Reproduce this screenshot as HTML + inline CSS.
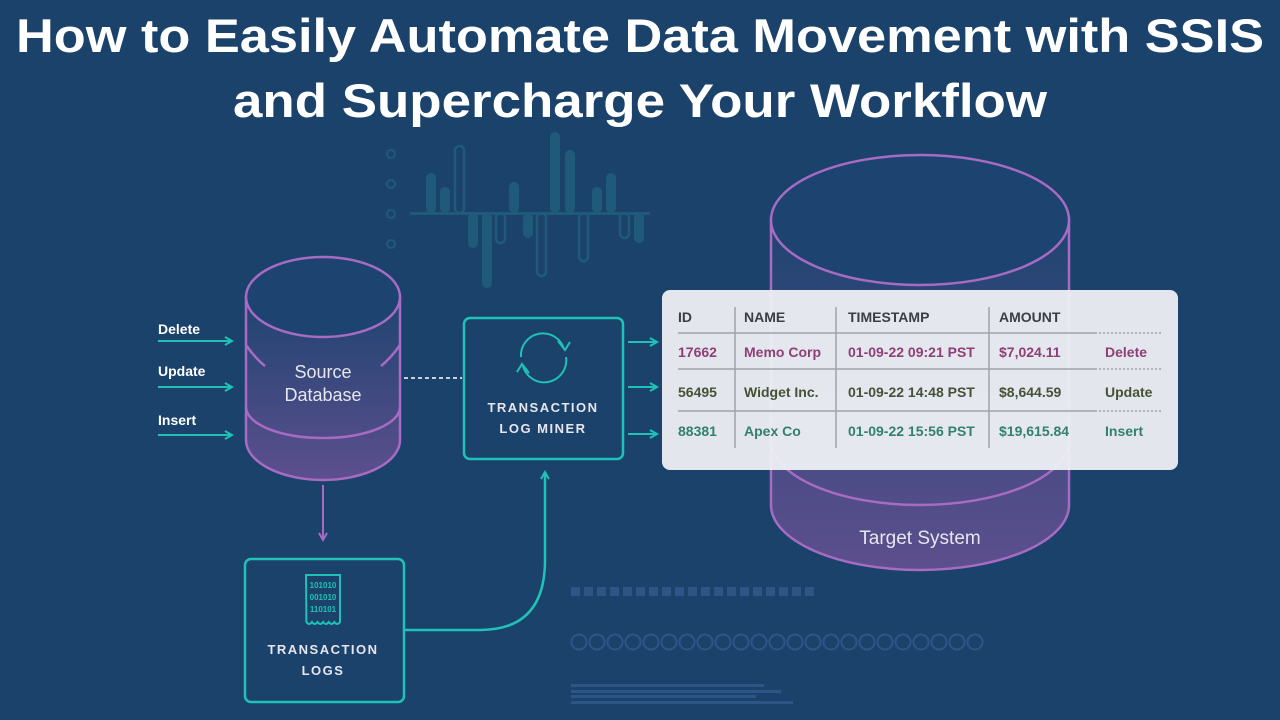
<!DOCTYPE html>
<html><head><meta charset="utf-8"><style>
html,body{margin:0;padding:0;background:#1b426b;}
svg{display:block}
text{font-family:"Liberation Sans",sans-serif}
</style></head><body>
<svg width="1280" height="720" viewBox="0 0 1280 720">
<defs>
<linearGradient id="g1" x1="0" y1="0" x2="0" y2="1"><stop offset="0" stop-color="#1f4470"/><stop offset="1" stop-color="#5d4f8e"/></linearGradient>
<linearGradient id="g2" x1="0" y1="0" x2="0" y2="1"><stop offset="0" stop-color="#1f4470"/><stop offset="1" stop-color="#5d4f8e"/></linearGradient>
<marker id="ah" markerWidth="10" markerHeight="10" refX="8" refY="5" orient="auto" markerUnits="userSpaceOnUse"><path d="M1,1 L8,5 L1,9" fill="none" stroke="#1fc1b8" stroke-width="2"/></marker>
<marker id="ap" markerWidth="10" markerHeight="10" refX="8" refY="5" orient="auto" markerUnits="userSpaceOnUse"><path d="M1,1 L8,5 L1,9" fill="none" stroke="#a86bc4" stroke-width="2"/></marker>
</defs>
<rect width="1280" height="720" fill="#1b426b"/>
<text x="640" y="52" text-anchor="middle" fill="#fff" font-size="47" font-weight="bold" textLength="1248" lengthAdjust="spacingAndGlyphs">How to Easily Automate Data Movement with SSIS</text>
<text x="640" y="117" text-anchor="middle" fill="#fff" font-size="47" font-weight="bold" textLength="814" lengthAdjust="spacingAndGlyphs">and Supercharge Your Workflow</text>

<!-- chart -->
<g stroke="#1f5a7a" fill="none" stroke-width="2">
<circle cx="391" cy="154" r="4"/><circle cx="391" cy="184" r="4"/><circle cx="391" cy="214" r="4"/><circle cx="391" cy="244" r="4"/>
</g>
<g fill="#1f5a7a">
<rect x="410" y="212" width="240" height="3"/>
<rect x="426" y="173" width="10" height="40" rx="5"/>
<rect x="440" y="187" width="10" height="26" rx="5"/>
<rect x="509" y="182" width="10" height="31" rx="5"/>
<rect x="550" y="132" width="10" height="81" rx="5"/>
<rect x="565" y="150" width="10" height="63" rx="5"/>
<rect x="592" y="187" width="10" height="26" rx="5"/>
<rect x="606" y="173" width="10" height="40" rx="5"/>
<rect x="468" y="213" width="10" height="35" rx="5"/>
<rect x="482" y="213" width="10" height="75" rx="5"/>
<rect x="523" y="213" width="10" height="25" rx="5"/>
<rect x="634" y="213" width="10" height="30" rx="5"/>
</g>
<g fill="none" stroke="#1f5a7a" stroke-width="2.5">
<rect x="455" y="146" width="9" height="67" rx="4.5"/>
<rect x="496" y="213" width="9" height="30" rx="4.5"/>
<rect x="537" y="213" width="9" height="63" rx="4.5"/>
<rect x="579" y="213" width="9" height="48" rx="4.5"/>
<rect x="620" y="213" width="9" height="25" rx="4.5"/>
</g>

<!-- target cylinder -->
<path d="M771,220 L771,505 A149,65 0 0 0 1069,505 L1069,220 Z" fill="url(#g2)" stroke="#a86bc4" stroke-width="2.5"/>
<ellipse cx="920" cy="220" rx="149" ry="65" fill="#1d4470" stroke="#a86bc4" stroke-width="2.5"/>
<path d="M771,440 A149,65 0 0 0 1069,440" fill="none" stroke="#a86bc4" stroke-width="2.5"/>
<text x="920" y="544" text-anchor="middle" fill="#e6e6ee" font-size="19">Target System</text>

<!-- source cylinder -->
<path d="M246,297 L246,440 A77,40 0 0 0 400,440 L400,297 Z" fill="url(#g1)" stroke="#a86bc4" stroke-width="2.5"/>
<ellipse cx="323" cy="297" rx="77" ry="40" fill="#1d4470" stroke="#a86bc4" stroke-width="2.5"/>
<path d="M246,407 A77,31 0 0 0 400,407" fill="none" stroke="#a86bc4" stroke-width="2.5"/>
<path d="M246,345 Q255,358 265,366" fill="none" stroke="#a86bc4" stroke-width="2.5"/>
<path d="M400,345 Q391,358 381,366" fill="none" stroke="#a86bc4" stroke-width="2.5"/>
<text x="323" y="378" text-anchor="middle" fill="#e6e6ee" font-size="18">Source</text>
<text x="323" y="401" text-anchor="middle" fill="#e6e6ee" font-size="18">Database</text>

<!-- input arrows -->
<g font-size="14" font-weight="bold" fill="#fff">
<text x="158" y="334">Delete</text><text x="158" y="376">Update</text><text x="158" y="425">Insert</text>
</g>
<g stroke="#1fc1b8" stroke-width="2" marker-end="url(#ah)">
<line x1="158" y1="341" x2="232" y2="341"/>
<line x1="158" y1="387" x2="232" y2="387"/>
<line x1="158" y1="435" x2="232" y2="435"/>
<line x1="628" y1="342" x2="657" y2="342"/>
<line x1="628" y1="387" x2="657" y2="387"/>
<line x1="628" y1="434" x2="657" y2="434"/>
</g>
<line x1="404" y1="378" x2="462" y2="378" stroke="#c8d0e0" stroke-width="2" stroke-dasharray="4,3"/>

<!-- miner box -->
<rect x="464" y="318" width="159" height="141" rx="6" fill="none" stroke="#1fc1b8" stroke-width="2.5"/>
<g fill="none" stroke="#1fc1b8" stroke-width="2">
<path d="M521,357 A22,22 0 0 1 564,349"/><path d="M566,357 A22,22 0 0 1 523,366"/>
<path d="M558,341 L565,350 L570,342"/><path d="M529,373 L522,364 L517,372"/>
</g>
<text x="543" y="412" text-anchor="middle" fill="#e6e6ee" font-size="13" font-weight="bold" letter-spacing="1.5">TRANSACTION</text>
<text x="543" y="433" text-anchor="middle" fill="#e6e6ee" font-size="13" font-weight="bold" letter-spacing="1.5">LOG MINER</text>

<!-- down arrow -->
<line x1="323" y1="485" x2="323" y2="540" stroke="#a86bc4" stroke-width="2" marker-end="url(#ap)"/>

<!-- logs box -->
<rect x="245" y="559" width="159" height="143" rx="6" fill="none" stroke="#1fc1b8" stroke-width="2.5"/>
<path d="M306,575 L340,575 L340,622 q-3,4 -5.6,0 q-3,4 -5.6,0 q-3,4 -5.6,0 q-3,4 -5.6,0 q-3,4 -5.6,0 q-3,4 -5.6,0 Z" fill="none" stroke="#1fc1b8" stroke-width="2"/>
<g font-size="8" fill="#1fc1b8" font-weight="bold" text-anchor="middle"><text x="323" y="588">101010</text><text x="323" y="600">001010</text><text x="323" y="612">110101</text></g>
<text x="323" y="654" text-anchor="middle" fill="#e6e6ee" font-size="13" font-weight="bold" letter-spacing="1.5">TRANSACTION</text>
<text x="323" y="675" text-anchor="middle" fill="#e6e6ee" font-size="13" font-weight="bold" letter-spacing="1.5">LOGS</text>

<path d="M404,630 L480,630 Q545,630 545,560 L545,472" fill="none" stroke="#1fc1b8" stroke-width="2.5" marker-end="url(#ah)"/>

<!-- decorations bottom -->
<g fill="#2d5585">
<rect x="571" y="587" width="9" height="9"/><rect x="584" y="587" width="9" height="9"/><rect x="597" y="587" width="9" height="9"/><rect x="610" y="587" width="9" height="9"/><rect x="623" y="587" width="9" height="9"/><rect x="636" y="587" width="9" height="9"/><rect x="649" y="587" width="9" height="9"/><rect x="662" y="587" width="9" height="9"/><rect x="675" y="587" width="9" height="9"/><rect x="688" y="587" width="9" height="9"/><rect x="701" y="587" width="9" height="9"/><rect x="714" y="587" width="9" height="9"/><rect x="727" y="587" width="9" height="9"/><rect x="740" y="587" width="9" height="9"/><rect x="753" y="587" width="9" height="9"/><rect x="766" y="587" width="9" height="9"/><rect x="779" y="587" width="9" height="9"/><rect x="792" y="587" width="9" height="9"/><rect x="805" y="587" width="9" height="9"/>
<rect x="571" y="684" width="193" height="3"/><rect x="571" y="690" width="210" height="3"/><rect x="571" y="695" width="185" height="3"/><rect x="571" y="701" width="222" height="3"/>
</g>
<g fill="none" stroke="#2d5585" stroke-width="2">
<circle cx="579" cy="642" r="7.5"/><circle cx="597" cy="642" r="7.5"/><circle cx="615" cy="642" r="7.5"/><circle cx="633" cy="642" r="7.5"/><circle cx="651" cy="642" r="7.5"/><circle cx="669" cy="642" r="7.5"/><circle cx="687" cy="642" r="7.5"/><circle cx="705" cy="642" r="7.5"/><circle cx="723" cy="642" r="7.5"/><circle cx="741" cy="642" r="7.5"/><circle cx="759" cy="642" r="7.5"/><circle cx="777" cy="642" r="7.5"/><circle cx="795" cy="642" r="7.5"/><circle cx="813" cy="642" r="7.5"/><circle cx="831" cy="642" r="7.5"/><circle cx="849" cy="642" r="7.5"/><circle cx="867" cy="642" r="7.5"/><circle cx="885" cy="642" r="7.5"/><circle cx="903" cy="642" r="7.5"/><circle cx="921" cy="642" r="7.5"/><circle cx="939" cy="642" r="7.5"/><circle cx="957" cy="642" r="7.5"/><circle cx="975" cy="642" r="7.5"/>
</g>

<!-- table -->
<rect x="662" y="290" width="516" height="180" rx="8" fill="#eef0f4" opacity="0.95"/>
<g stroke="#a0a4a8" stroke-width="1.5">
<line x1="678" y1="333" x2="1095" y2="333"/><line x1="678" y1="369" x2="1095" y2="369"/><line x1="678" y1="411" x2="1095" y2="411"/>
<line x1="735" y1="307" x2="735" y2="448"/><line x1="836" y1="307" x2="836" y2="448"/><line x1="989" y1="307" x2="989" y2="448"/>
</g>
<g stroke="#a0a4a8" stroke-width="1.5" stroke-dasharray="2,2">
<line x1="1095" y1="333" x2="1162" y2="333"/><line x1="1095" y1="369" x2="1162" y2="369"/><line x1="1095" y1="411" x2="1162" y2="411"/>
</g>
<g font-size="14" font-weight="bold">
<g fill="#3a3f44"><text x="678" y="322">ID</text><text x="744" y="322">NAME</text><text x="848" y="322">TIMESTAMP</text><text x="999" y="322">AMOUNT</text></g>
<g fill="#8e3f76"><text x="678" y="357">17662</text><text x="744" y="357">Memo Corp</text><text x="848" y="357">01-09-22 09:21 PST</text><text x="999" y="357">$7,024.11</text><text x="1105" y="357">Delete</text></g>
<g fill="#465236"><text x="678" y="397">56495</text><text x="744" y="397">Widget Inc.</text><text x="848" y="397">01-09-22 14:48 PST</text><text x="999" y="397">$8,644.59</text><text x="1105" y="397">Update</text></g>
<g fill="#33806e"><text x="678" y="436">88381</text><text x="744" y="436">Apex Co</text><text x="848" y="436">01-09-22 15:56 PST</text><text x="999" y="436">$19,615.84</text><text x="1105" y="436">Insert</text></g>
</g>
</svg>
</body></html>
